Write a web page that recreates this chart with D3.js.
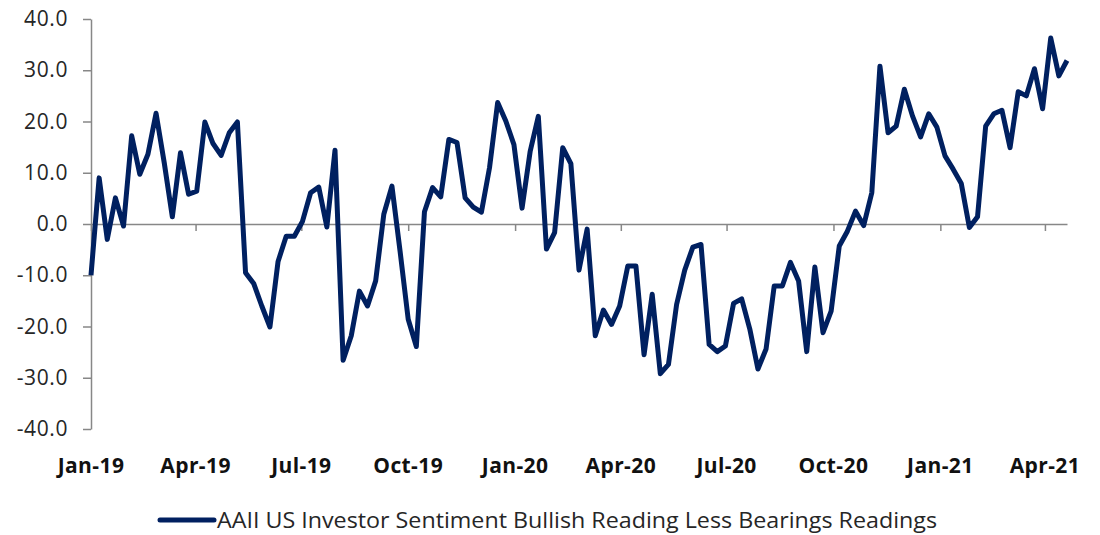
<!DOCTYPE html>
<html>
<head>
<meta charset="utf-8">
<script src="https://cdn.jsdelivr.net/npm/d3@7"></script>
<style>
  body { margin: 0; background: #fff; }
  svg { display: block; font-family: "Open Sans", "Noto Sans", sans-serif; }
</style>
</head>
<body>
<svg id="chart" width="1100" height="535"></svg>
<script>
// weekly readings (bullish % minus bearish %), starting first Thursday of 2019
const startDate = new Date(2019, 0, 3);
const spread = [
  -10.0, 9.0, -3.0, 5.1, -0.4, 17.2, 9.7, 13.6, 21.6, 12.0,
  1.4, 13.9, 5.8, 6.4, 19.9, 15.7, 13.4, 17.8, 19.9, -9.5,
  -11.6, -16.0, -20.1, -7.3, -2.4, -2.4, 0.5, 6.1, 7.2, -0.6,
  14.4, -26.6, -21.8, -13.1, -16.0, -11.1, 1.9, 7.4, -5.3, -18.6,
  -23.9, 2.4, 7.1, 5.3, 16.5, 15.9, 5.1, 3.3, 2.3, 11.0,
  23.7, 20.1, 15.5, 3.1, 14.2, 21.0, -4.9, -1.7, 14.9, 11.8,
  -9.0, -1.0, -21.8, -16.8, -19.6, -16.0, -8.2, -8.2, -25.5, -13.7,
  -29.2, -27.4, -15.7, -9.0, -4.5, -4.0, -23.5, -24.9, -23.8, -15.5,
  -14.6, -20.5, -28.3, -24.4, -12.1, -12.1, -7.5, -11.1, -24.9, -8.4,
  -21.2, -17.0, -4.3, -1.4, 2.5, -0.3, 6.1, 30.8, 17.8, 19.1,
  26.3, 21.1, 17.0, 21.5, 18.9, 13.3, 10.7, 7.9, -0.7, 1.4,
  19.1, 21.5, 22.2, 14.9, 25.8, 25.0, 30.3, 22.5, 36.3, 28.9,
  31.9
];
const yTicks = [-40, -30, -20, -10, 0, 10, 20, 30, 40];
const xTickDates = d3.range(10).map(i => new Date(2019, i * 3, 3));
const seriesName = "AAII US Investor Sentiment Bullish Reading Less Bearings Readings";

const data = spread.map((v, i) => ({ date: d3.timeWeek.offset(startDate, i), value: v }));

const svg = d3.select("#chart");
const plot = { left: 91, right: 1067, top: 19, bottom: 429 };

const x = d3.scaleTime()
    .domain([data[0].date, data[data.length - 1].date])
    .range([plot.left, plot.right]);
const y = d3.scaleLinear().domain([-40, 40]).range([plot.bottom, plot.top]);

const axisColor = "#878787";

// y axis
const yAxis = svg.append("g")
    .attr("transform", `translate(${plot.left},0)`)
    .call(d3.axisLeft(y).tickValues(yTicks).tickSize(8).tickSizeOuter(0)
        .tickPadding(15).tickFormat(d => d.toFixed(1)));
yAxis.select(".domain").attr("stroke", axisColor).attr("stroke-width", 1.5);
yAxis.selectAll(".tick line").attr("stroke", axisColor).attr("stroke-width", 1.5);
yAxis.selectAll(".tick text")
    .attr("font-size", 21).attr("fill", "#262626")
    .attr("letter-spacing", "0.6px")
    .attr("font-family", "'Open Sans', 'Noto Sans', sans-serif");

// x axis sits on the zero line
const xAxis = svg.append("g")
    .attr("transform", `translate(0,${y(0)})`)
    .call(d3.axisBottom(x).tickValues(xTickDates).tickSize(7).tickSizeOuter(0).tickFormat(""));
xAxis.select(".domain").attr("stroke", axisColor).attr("stroke-width", 1.5);
xAxis.selectAll(".tick line").attr("stroke", axisColor).attr("stroke-width", 1.5);

// date labels below the plot
svg.append("g")
  .selectAll("text")
  .data(xTickDates)
  .join("text")
    .attr("x", d => x(d))
    .attr("y", 473)
    .attr("text-anchor", "middle")
    .attr("font-size", 21)
    .attr("font-weight", "bold")
    .attr("letter-spacing", "0.4px")
    .attr("fill", "#111")
    .text(d => d3.timeFormat("%b-%y")(d));

// series line
const line = d3.line().x(d => x(d.date)).y(d => y(d.value));
svg.append("path")
    .datum(data)
    .attr("fill", "none")
    .attr("stroke", "#002060")
    .attr("stroke-width", 5)
    .attr("stroke-linejoin", "round")
    .attr("d", line);

// legend
const legend = svg.append("g").attr("transform", "translate(160,520)");
legend.append("line")
    .attr("x1", 0).attr("x2", 54)
    .attr("stroke", "#002060").attr("stroke-width", 5)
    .attr("stroke-linecap", "round");
legend.append("text")
    .attr("x", 57).attr("y", 8)
    .attr("font-size", 22)
    .attr("fill", "#262626")
    .attr("textLength", 720)
    .attr("lengthAdjust", "spacingAndGlyphs")
    .text(seriesName);
</script>
</body>
</html>
